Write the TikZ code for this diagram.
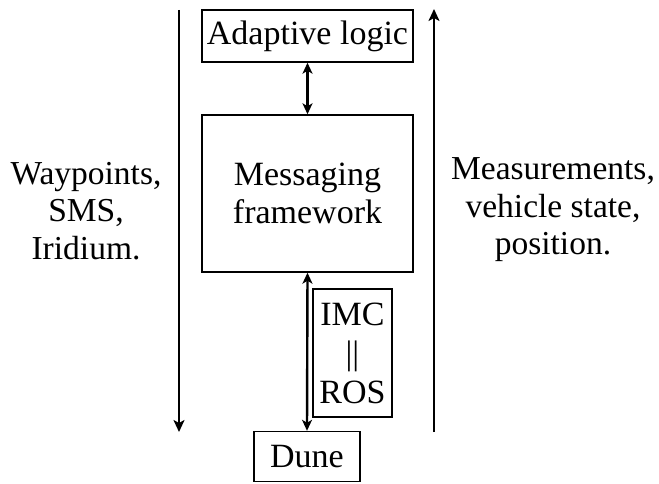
\documentclass[tikz,border=0pt]{standalone}
\usepackage{fontspec}
\setmainfont{Liberation Serif}
\usetikzlibrary{arrows.meta}
\begin{document}
\begin{tikzpicture}[x=1pt,y=-1pt,
  box/.style={draw,line width=1.4pt,inner sep=0pt,align=center,font=\fontsize{34}{38}\selectfont},
  lbl/.style={inner sep=0pt,align=center,font=\fontsize{33.5}{37.5}\selectfont},
  flow/.style={line width=2.8pt,-{Stealth[length=12pt,width=11pt,inset=3pt]}},
  link/.style={line width=2.4pt,{Stealth[length=11pt,width=10pt,inset=3pt]}-{Stealth[length=11pt,width=10pt,inset=3pt]}}]
\useasboundingbox (0,0) rectangle (659,484);
\node[box,minimum width=211pt,minimum height=52pt] (adapt) at (307.5,36) {Adaptive logic};
\node[box,minimum width=211pt,minimum height=157pt] (msg) at (307.5,193.5) {Messaging\\framework};
\node[box,minimum width=79pt,minimum height=128pt,font=\fontsize{34}{39}\selectfont] (imc) at (352.5,353) {IMC\\||\\ROS};
\node[box,minimum width=106pt,minimum height=50pt] (dune) at (307,456.5) {Dune};
\node[lbl] (left) at (86,211) {Waypoints,\\SMS,\\Iridium.};
\node[lbl] (right) at (553,210) {Measurements,\\vehicle state,\\position.};
\coordinate (ltop) at (179,10);
\coordinate (lbot) at (179,432);
\coordinate (rbot) at (434,432);
\coordinate (rtop) at (434,9);
\draw[flow] (ltop) -- (lbot);
\draw[flow] (rbot) -- (rtop);
\draw[link] (adapt.south) -- (msg.north);
\draw[link] (msg.south) -- (dune.north);
\end{tikzpicture}
\end{document}
